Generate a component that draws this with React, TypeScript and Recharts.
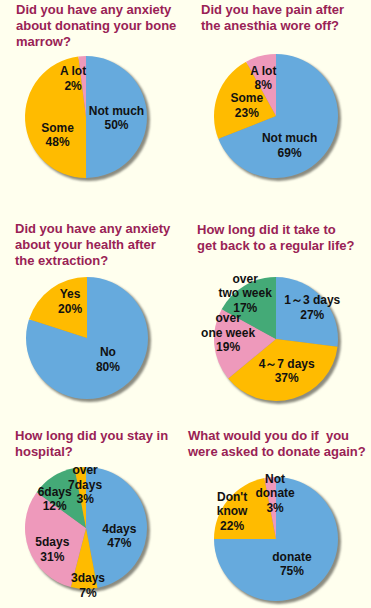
import { PieChart, Pie, Cell } from 'recharts'

const BLUE = '#66aadd'
const YELLOW = '#ffbb00'
const PINK = '#ee99bb'
const GREEN = '#44aa77'

// survey answers, clockwise from 12 o'clock
const ANXIETY_LABELS = ['Not much', 'Some', 'A lot']
const ANXIETY_VALUES = [50, 48, 2]
const PAIN_LABELS = ['Not much', 'Some', 'A lot']
const PAIN_VALUES = [69, 23, 8]
const HEALTH_LABELS = ['No', 'Yes']
const HEALTH_VALUES = [80, 20]
const RECOVERY_LABELS = ['1～3 days', '4～7 days', 'over\none week', 'over\ntwo week']
const RECOVERY_VALUES = [27, 37, 19, 17]
const HOSPITAL_LABELS = ['4days', '3days', '5days', '6days', 'over\n7days']
const HOSPITAL_VALUES = [47, 7, 31, 12, 3]
const AGAIN_LABELS = ['donate', "Don't\nknow", 'Not\ndonate']
const AGAIN_VALUES = [75, 22, 3]

const TITLES = [
  'Did you have any anxiety\nabout donating your bone\nmarrow?',
  'Did you have pain after\nthe anesthia wore off?',
  'Did you have any anxiety\nabout your health after\nthe extraction?',
  'How long did it take to\nget back to a regular life?',
  'How long did you stay in\nhospital?',
  'What would you do if  you\nwere asked to donate again?',
]

type Panel = {
  labels: string[]
  values: number[]
  colors: string[]
  cx: number
  cy: number
  r: number
  nudge: [number, number][]
  title: string
  tx: number
  ty: number
}

const PANELS: Panel[] = [
  { labels: ANXIETY_LABELS, values: ANXIETY_VALUES, colors: [BLUE, YELLOW, PINK], cx: 86, cy: 117, r: 61,
    nudge: [[0, 1], [2, 16], [-11, -8]], title: TITLES[0], tx: 16, ty: 2 },
  { labels: PAIN_LABELS, values: PAIN_VALUES, colors: [BLUE, YELLOW, PINK], cx: 276, cy: 116, r: 62,
    nudge: [[-12, 12], [0, 0], [-5, -8]], title: TITLES[1], tx: 201, ty: 2 },
  { labels: HEALTH_LABELS, values: HEALTH_VALUES, colors: [BLUE, YELLOW], cx: 87, cy: 338, r: 61,
    nudge: [[3, -3], [1, -12]], title: TITLES[2], tx: 15, ty: 221 },
  { labels: RECOVERY_LABELS, values: RECOVERY_VALUES, colors: [BLUE, YELLOW, PINK, GREEN], cx: 276, cy: 339, r: 62,
    nudge: [[13, -11], [2, 2], [-17, -9], [-15, -19]], title: TITLES[3], tx: 197, ty: 222 },
  { labels: HOSPITAL_LABELS, values: HOSPITAL_VALUES, colors: [BLUE, YELLOW, PINK, GREEN, YELLOW], cx: 86, cy: 528, r: 61,
    nudge: [[3, 11], [3, 27], [-5, 11], [-15, -3], [2, -13]], title: TITLES[4], tx: 15, ty: 428 },
  { labels: AGAIN_LABELS, values: AGAIN_VALUES, colors: [BLUE, YELLOW, PINK], cx: 276, cy: 539, r: 62,
    nudge: [[-6, 3], [-20, -8], [2, -15]], title: TITLES[5], tx: 188, ty: 428 },
]

const RAD = Math.PI / 180
const FONT = '"Liberation Sans", Arial, sans-serif'

function makeLabel(panel: Panel) {
  return (props: any) => {
    const { cx, cy, midAngle, outerRadius, index, value } = props
    const d = outerRadius * 0.5
    const [nx, ny] = panel.nudge[index] ?? [0, 0]
    const x = cx + d * Math.cos(-midAngle * RAD) + nx
    const y = cy + d * Math.sin(-midAngle * RAD) + ny
    const lines = [...panel.labels[index].split('\n'), `${value}%`]
    const lh = 14.5
    const y0 = y - ((lines.length - 1) * lh) / 2
    return (
      <text
        key={`lbl-${index}`}
        x={x}
        y={y0}
        textAnchor="middle"
        dominantBaseline="central"
        fontFamily={FONT}
        fontSize={12}
        fontWeight="bold"
        fill="#111"
      >
        {lines.map((ln, i) => (
          <tspan key={i} x={x} y={y0 + i * lh}>
            {ln}
          </tspan>
        ))}
      </text>
    )
  }
}

export default function App() {
  return (
    <div style={{ position: 'relative', width: 371, height: 608, background: '#ffffee', overflow: 'hidden' }}>
      <style>{'body{margin:0}'}</style>
      <PieChart
        width={371}
        height={608}
        margin={{ top: 0, right: 0, bottom: 0, left: 0 }}
        style={{ position: 'absolute', left: 0, top: 0 }}
      >
        <defs>
          <filter id="soft" x="-20%" y="-20%" width="140%" height="140%">
            <feGaussianBlur stdDeviation="1.2" />
          </filter>
        </defs>
        {PANELS.map((p, k) => (
          <Pie
            key={`shadow-${k}`}
            data={[{ v: 1 }]}
            dataKey="v"
            cx={p.cx + 2.5}
            cy={p.cy + 2.5}
            outerRadius={p.r + 0.5}
            startAngle={90}
            endAngle={-270}
            stroke="none"
            fill="#8c8c80"
            style={{ filter: 'url(#soft)' }}
            isAnimationActive={false}
          />
        ))}
        {PANELS.map((p, k) => (
          <Pie
            key={`pie-${k}`}
            data={p.values.map((v, i) => ({ name: p.labels[i], value: v }))}
            dataKey="value"
            nameKey="name"
            cx={p.cx}
            cy={p.cy}
            outerRadius={p.r}
            startAngle={90}
            endAngle={-270}
            stroke="none"
            labelLine={false}
            label={makeLabel(p)}
            isAnimationActive={false}
          >
            {p.values.map((_, i) => (
              <Cell key={`c-${k}-${i}`} fill={p.colors[i]} />
            ))}
          </Pie>
        ))}
      </PieChart>
      {PANELS.map((p, k) => (
        <div
          key={`t-${k}`}
          style={{
            position: 'absolute',
            left: p.tx,
            top: p.ty,
            fontFamily: FONT,
            fontSize: 13,
            fontWeight: 'bold',
            lineHeight: '16px',
            color: '#992255',
            whiteSpace: 'pre',
          }}
        >
          {p.title}
        </div>
      ))}
    </div>
  )
}
